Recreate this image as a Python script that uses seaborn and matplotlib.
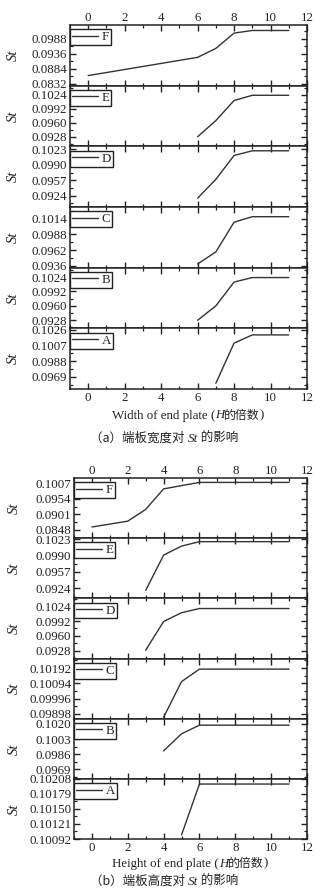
import matplotlib
matplotlib.use("Agg")
import matplotlib.pyplot as plt
import seaborn as sns
import pandas as pd
from matplotlib.ticker import MultipleLocator, AutoMinorLocator, FixedLocator, FormatStrFormatter
from matplotlib.offsetbox import TextArea, HPacker, AnchoredOffsetbox

sns.set_theme(style="ticks")
plt.rcParams["font.family"] = ["Liberation Serif", "Noto Sans CJK SC"]

# ---------------- data: (a) width of end plate ----------------
a_F_x = [0, 2, 4, 6, 7, 8, 9, 10, 11]
a_F_st = [0.0861, 0.0882, 0.0903, 0.0924, 0.0955, 0.1008, 0.1017, 0.1017, 0.1017]
a_E_x = [6, 7, 8, 9, 10, 11]
a_E_st = [0.0928, 0.0965, 0.1011, 0.1023, 0.1023, 0.1023]
a_D_x = [6, 7, 8, 9, 10, 11]
a_D_st = [0.0919, 0.0959, 0.1010, 0.1020, 0.1020, 0.1020]
a_C_x = [6, 7, 8, 9, 10, 11]
a_C_st = [0.0939, 0.0959, 0.1008, 0.1017, 0.1017, 0.1017]
a_B_x = [6, 7, 8, 9, 10, 11]
a_B_st = [0.0928, 0.0960, 0.1013, 0.1023, 0.1023, 0.1023]
a_A_x = [7, 8, 9, 10, 11]
a_A_st = [0.0961, 0.1010, 0.1020, 0.1020, 0.1020]

a_F_ticks = [0.0832, 0.0884, 0.0936, 0.0988]
a_E_ticks = [0.0928, 0.0960, 0.0992, 0.1024]
a_D_ticks = [0.0924, 0.0957, 0.0990, 0.1023]
a_C_ticks = [0.0936, 0.0962, 0.0988, 0.1014]
a_B_ticks = [0.0928, 0.0960, 0.0992, 0.1024]
a_A_ticks = [0.0969, 0.0988, 0.1007, 0.1026]

a_F_lim = (0.0826, 0.1036)
a_E_lim = (0.0906, 0.1045)
a_D_lim = (0.0900, 0.10295)
a_C_lim = (0.0933, 0.1033)
a_B_lim = (0.0910, 0.1045)
a_A_lim = (0.0954, 0.1028)

# ---------------- data: (b) height of end plate ----------------
b_F_x = [0, 2, 3, 4, 5, 6, 8, 10, 11]
b_F_st = [0.0858, 0.0878, 0.0918, 0.0988, 0.0999, 0.1010, 0.1010, 0.1010, 0.1010]
b_E_x = [3, 4, 5, 6, 8, 10, 11]
b_E_st = [0.0920, 0.0991, 0.1009, 0.1018, 0.1018, 0.1018, 0.1018]
b_D_x = [3, 4, 5, 6, 8, 10, 11]
b_D_st = [0.0929, 0.0991, 0.1010, 0.1019, 0.1019, 0.1019, 0.1019]
b_C_x = [4, 5, 6, 8, 10, 11]
b_C_st = [0.09876, 0.10105, 0.10185, 0.10185, 0.10185, 0.10185]
b_B_x = [4, 5, 6, 8, 10, 11]
b_B_st = [0.09897, 0.10089, 0.10186, 0.10186, 0.10186, 0.10186]
b_A_x = [5, 6, 8, 10, 11]
b_A_st = [0.10100, 0.10198, 0.10198, 0.10198, 0.10198]

b_F_ticks = [0.0848, 0.0901, 0.0954, 0.1007]
b_E_ticks = [0.0924, 0.0957, 0.0990, 0.1023]
b_D_ticks = [0.0928, 0.0960, 0.0992, 0.1024]
b_C_ticks = [0.09898, 0.09996, 0.10094, 0.10192]
b_B_ticks = [0.0969, 0.0986, 0.1003, 0.1020]
b_A_ticks = [0.10092, 0.10121, 0.10150, 0.10179, 0.10208]

b_F_lim = (0.0820, 0.1025)
b_E_lim = (0.0904, 0.1025)
b_D_lim = (0.0911, 0.1041)
b_C_lim = (0.09867, 0.10253)
b_B_lim = (0.09582, 0.10259)
b_A_lim = (0.10092, 0.10208)

labels = ["F", "E", "D", "C", "B", "A"]

a_panels = [(a_F_x, a_F_st, a_F_ticks, a_F_lim, 4), (a_E_x, a_E_st, a_E_ticks, a_E_lim, 4),
            (a_D_x, a_D_st, a_D_ticks, a_D_lim, 4), (a_C_x, a_C_st, a_C_ticks, a_C_lim, 4),
            (a_B_x, a_B_st, a_B_ticks, a_B_lim, 4), (a_A_x, a_A_st, a_A_ticks, a_A_lim, 4)]
b_panels = [(b_F_x, b_F_st, b_F_ticks, b_F_lim, 4), (b_E_x, b_E_st, b_E_ticks, b_E_lim, 4),
            (b_D_x, b_D_st, b_D_ticks, b_D_lim, 4), (b_C_x, b_C_st, b_C_ticks, b_C_lim, 5),
            (b_B_x, b_B_st, b_B_ticks, b_B_lim, 4), (b_A_x, b_A_st, b_A_ticks, b_A_lim, 5)]

W, H = 328, 896
fig = plt.figure(figsize=(W / 100, H / 100), dpi=100)
fig.patch.set_facecolor("white")

LINE = "#333333"
SERIF = "Liberation Serif"
CJK = "Noto Sans CJK SC"
TS = 9.3


def draw_group(panels, left_px, right_px, top_px, panel_h, ylabel_x_px):
    axes = []
    n = len(panels)
    for i, (xs, ys, ticks, lim, dec) in enumerate(panels):
        top = top_px + i * panel_h
        ax = fig.add_axes([left_px / W, 1 - (top + panel_h) / H,
                           (right_px - left_px) / W, panel_h / H])
        df = pd.DataFrame({"x": xs, "St": ys})
        sns.lineplot(data=df, x="x", y="St", ax=ax, color=LINE, linewidth=1.0,
                     label=labels[i], legend=False)
        ax.set_xlim(-1, 12)
        ax.set_ylim(*lim)
        ax.xaxis.set_major_locator(MultipleLocator(2))
        ax.xaxis.set_minor_locator(MultipleLocator(1))
        ax.yaxis.set_major_locator(FixedLocator(ticks))
        ax.yaxis.set_minor_locator(AutoMinorLocator(2))
        ax.yaxis.set_major_formatter(FormatStrFormatter(f"%.{dec}f"))
        ax.tick_params(which="both", direction="in", top=True, bottom=True,
                       left=True, right=True, colors="#222222",
                       labelsize=TS, labelcolor="#222222", pad=2)
        ax.tick_params(which="major", length=4, width=1.0)
        ax.tick_params(which="minor", length=2, width=0.9)
        ax.tick_params(axis="x", labelbottom=(i == n - 1), labeltop=(i == 0))
        if i == 0:
            ax.tick_params(axis="x", which="major", pad=0.5)
        for lab in ax.get_xticklabels() + ax.get_yticklabels():
            lab.set_family(SERIF)
        for s in ax.spines.values():
            s.set_linewidth(1.1)
            s.set_color("#222222")
        ax.set_xlabel("")
        ax.set_ylabel("St", fontsize=10.5, style="italic", family=SERIF, color="#222222")
        ax.yaxis.set_label_coords((ylabel_x_px - left_px) / (right_px - left_px), 0.5)
        leg = ax.legend(handles=ax.get_lines()[:1], labels=[labels[i]],
                        loc="upper left", bbox_to_anchor=(0, 0.93),
                        borderaxespad=0, frameon=True, fancybox=False,
                        handlelength=2.0, handletextpad=0.3, borderpad=0.15,
                        prop={"family": SERIF, "size": TS})
        leg.get_frame().set_edgecolor("#222222")
        leg.get_frame().set_linewidth(1.0)
        leg.get_frame().set_facecolor("white")
        leg.get_frame().set_alpha(1)
        axes.append(ax)
    return axes


def mixed_text(parts, x_px, y_px):
    children = []
    for txt, fam, style, size in parts:
        children.append(TextArea(txt, textprops=dict(family=fam, style=style,
                                                     size=size, color="#222222")))
    box = HPacker(children=children, align="baseline", pad=0, sep=0)
    anc = AnchoredOffsetbox(loc="center", child=box, frameon=False,
                            bbox_to_anchor=(x_px / W, 1 - y_px / H),
                            bbox_transform=fig.transFigure, borderpad=0, pad=0)
    fig.add_artist(anc)


draw_group(a_panels, 70, 307, 25, 60.67, 20)
draw_group(b_panels, 74, 307, 478, 60.17, 21)

mixed_text([("Width of end plate (", SERIF, "normal", 9.3), ("H", SERIF, "italic", 9.3),
            ("的倍数", CJK, "normal", 8.6), (")", SERIF, "normal", 9.3)], 188, 415)
mixed_text([("（a）端板宽度对 ", CJK, "normal", 9.0), ("St", SERIF, "italic", 9.5),
            (" 的影响", CJK, "normal", 9.0)], 164, 438)
mixed_text([("Height of end plate (", SERIF, "normal", 9.3), ("H", SERIF, "italic", 9.3),
            ("的倍数", CJK, "normal", 8.6), (")", SERIF, "normal", 9.3)], 190, 863)
mixed_text([("（b）端板高度对 ", CJK, "normal", 9.0), ("St", SERIF, "italic", 9.5),
            (" 的影响", CJK, "normal", 9.0)], 164, 881)

fig.savefig("out.png", dpi=100, facecolor="white")
